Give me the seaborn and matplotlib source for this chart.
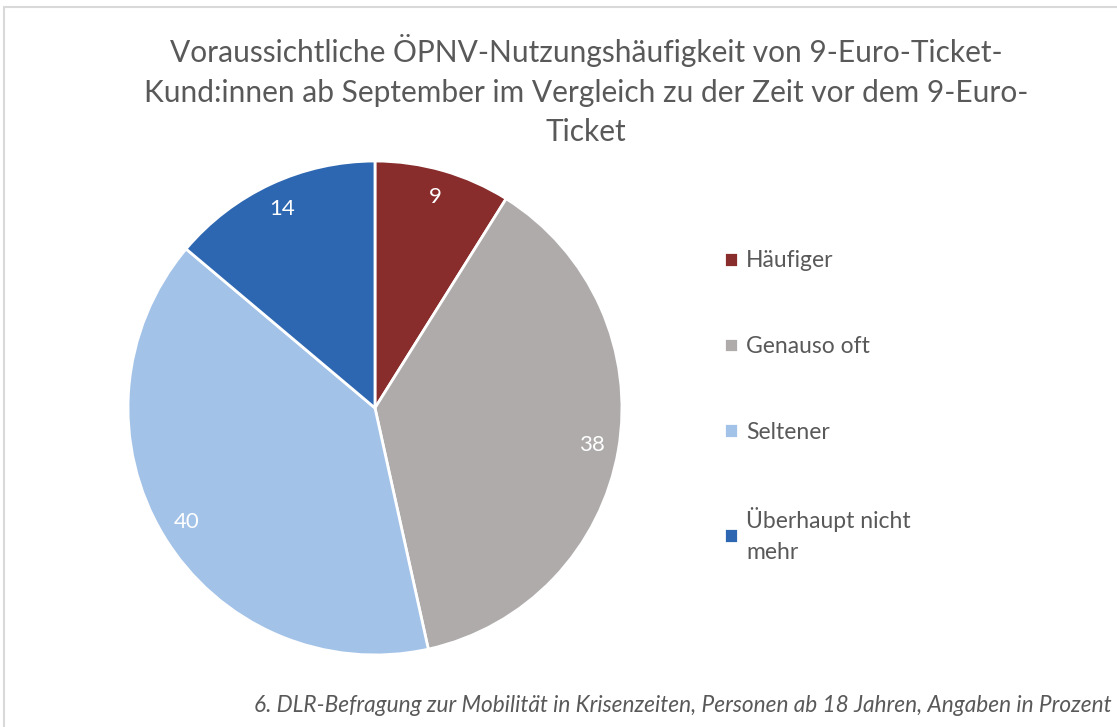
import matplotlib.pyplot as plt
import seaborn as sns
from matplotlib.patches import Rectangle

# data
categories = ["Häufiger", "Genauso oft", "Seltener", "Überhaupt nicht\nmehr"]
shares = [9, 38, 40, 14]
colors = ["#892C2C", "#AFABAB", "#A3C2E8", "#2E67B1"]

title = ("Voraussichtliche ÖPNV-Nutzungshäufigkeit von 9-Euro-Ticket-\n"
         "Kund:innen ab September im Vergleich zu der Zeit vor dem 9-Euro-\n"
         "Ticket")
footnote = "6. DLR-Befragung zur Mobilität in Krisenzeiten, Personen ab 18 Jahren, Angaben in Prozent"

sns.set_theme(style="white")
plt.rcParams["font.family"] = ["Lato", "DejaVu Sans"]
text_col = "#595959"

fig = plt.figure(figsize=(11.17, 7.27), dpi=100)
fig.patch.set_facecolor("white")

# light frame like the chart area border
fig.add_artist(Rectangle((0.004, -0.01), 1.1, 1.0, transform=fig.transFigure,
                         fill=False, edgecolor="#D9D9D9", linewidth=1.5))

ax = fig.add_axes([0.3357 - 0.2211, 0.4388 - 0.3398, 0.4422, 0.6796])
total = sum(shares)
wedges, _, autotexts = ax.pie(
    shares, colors=colors, startangle=90, counterclock=False,
    autopct=lambda p: f"{round(p * total / 100)}", pctdistance=0.89,
    wedgeprops=dict(edgecolor="white", linewidth=2),
    textprops=dict(color="white", fontsize=16))
ax.set_xlim(-1, 1)
ax.set_ylim(-1, 1)
ax.set_aspect("equal")

fig.text(0.5245, 0.953, title, ha="center", va="top", fontsize=21.5,
         color=text_col, linespacing=1.5)

leg = fig.legend(wedges, categories, loc="upper left", bbox_to_anchor=(0.63, 0.684),
                 frameon=False, fontsize=16.5, labelcolor=text_col,
                 handlelength=0.6, handleheight=0.6, handletextpad=0.35,
                 labelspacing=2.82)
for t in leg.get_texts():
    t.set_linespacing(1.55)

fig.text(0.995, 0.03, footnote, ha="right", va="center", fontsize=16.3,
         color=text_col, style="italic")

fig.savefig("out.png", dpi=100)
